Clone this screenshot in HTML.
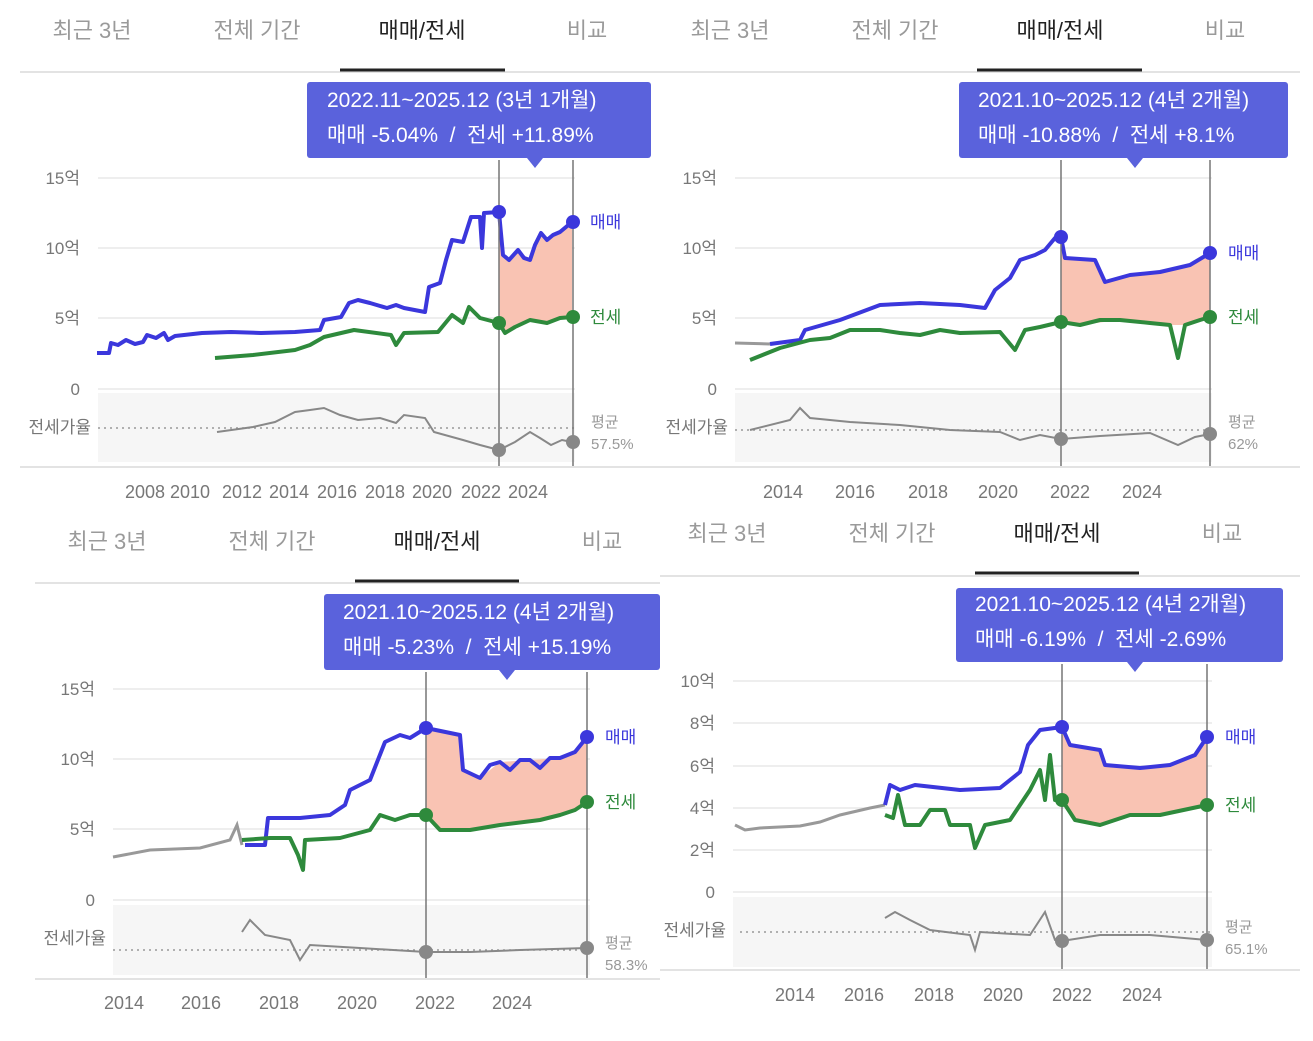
<!DOCTYPE html>
<html><head><meta charset="utf-8"><style>
html,body{margin:0;padding:0;background:#fff;}
svg{display:block;font-family:"Liberation Sans","Noto Sans CJK KR",sans-serif;}
text{white-space:pre;}
.tab{font-size:22px;fill:#9a9a9a;text-anchor:middle;}
.tabA{font-size:22px;fill:#222;text-anchor:middle;}
.yl{font-size:17px;fill:#777;text-anchor:end;}
.xl{font-size:18px;fill:#777;text-anchor:middle;}
.tt{font-size:21px;fill:#fff;}
.b{fill:none;stroke:#3b37dc;stroke-width:4;stroke-linejoin:round;}
.g{fill:none;stroke:#2e8a3c;stroke-width:4;stroke-linejoin:round;}
.r{fill:none;stroke:#888;stroke-width:2;}
.gr{fill:none;stroke:#999;stroke-width:3;}
.grid{stroke:#eee;stroke-width:2;}
.dash{stroke:#999;stroke-width:1.5;stroke-dasharray:2,4;}
.vl{stroke:#777;stroke-width:1.5;}
</style></head><body>
<svg width="1313" height="1041" viewBox="0 0 1313 1041" xml:space="preserve">
<!-- ================= PANEL 1 ================= -->
<text class="tab" x="92" y="38">최근 3년</text>
<text class="tab" x="257" y="38">전체 기간</text>
<text class="tabA" x="422" y="38">매매/전세</text>
<text class="tab" x="587" y="38">비교</text>
<line x1="20" y1="72" x2="657" y2="72" stroke="#e3e3e3" stroke-width="2"/>
<line x1="340" y1="70" x2="505" y2="70" stroke="#222" stroke-width="3"/>
<line class="grid" x1="98" y1="178" x2="575" y2="178"/>
<line class="grid" x1="98" y1="248" x2="575" y2="248"/>
<line class="grid" x1="98" y1="318" x2="575" y2="318"/>
<line class="grid" x1="98" y1="389" x2="575" y2="389"/>
<rect x="98" y="393" width="477" height="69" fill="#f6f6f6"/>
<text class="yl" x="80" y="184">15억</text>
<text class="yl" x="80" y="254">10억</text>
<text class="yl" x="80" y="324">5억</text>
<text class="yl" x="80" y="395">0</text>
<text class="yl" x="91" y="433">전세가율</text>
<line class="dash" x1="98" y1="428" x2="575" y2="428"/>
<polygon fill="#f9c3b3" points="499,212 503,255 509,260 518,250 530,260 541,233 547,240 560,232 572,222 572,317 547,323 530,320 505,333 499,323"/>
<polyline class="b" points="97,353 109,353 111,343 118,345 126,340 135,344 143,342 147,335 156,338 164,333 168,340 175,336 202,333 231,332 261,333 295,332 320,330 324,320 341,317 349,303 358,300 370,303 387,308 396,305 404,308 425,312 429,287 440,283 446,260 452,240 463,242 471,217 480,217 482,248 484,213 499,212 503,255 509,260 518,250 524,258 530,260 535,245 541,233 547,240 553,235 560,232 572,222"/>
<polyline class="g" points="215,358 253,355 295,350 310,345 324,337 354,330 391,335 396,345 404,333 438,332 452,315 463,323 469,307 480,318 499,323 505,333 515,327 530,320 547,323 560,318 572,317"/>
<polyline class="r" points="217,432 253,427 275,422 295,412 310,410 324,408 340,415 358,420 380,418 396,423 404,415 425,418 434,432 463,440 480,445 499,450 515,442 530,432 540,438 551,445 562,440 572,442"/>
<line class="vl" x1="499" y1="160" x2="499" y2="467"/>
<line class="vl" x1="573" y1="160" x2="573" y2="467"/>
<circle cx="499" cy="212" r="7" fill="#3b37dc"/><circle cx="573" cy="222" r="7" fill="#3b37dc"/>
<circle cx="499" cy="323" r="7" fill="#2e8a3c"/><circle cx="573" cy="317" r="7" fill="#2e8a3c"/>
<circle cx="499" cy="450" r="7" fill="#888"/><circle cx="573" cy="442" r="7" fill="#888"/>
<text x="590" y="228" font-size="17" fill="#3b37dc">매매</text>
<text x="590" y="323" font-size="17" fill="#2e8a3c">전세</text>
<text x="591" y="427" font-size="15" fill="#999">평균</text>
<text x="591" y="449" font-size="15" fill="#999">57.5%</text>
<line x1="20" y1="467" x2="657" y2="467" stroke="#e3e3e3" stroke-width="2"/>
<text class="xl" x="145" y="498">2008</text><text class="xl" x="190" y="498">2010</text><text class="xl" x="242" y="498">2012</text><text class="xl" x="289" y="498">2014</text><text class="xl" x="337" y="498">2016</text><text class="xl" x="385" y="498">2018</text><text class="xl" x="432" y="498">2020</text><text class="xl" x="481" y="498">2022</text><text class="xl" x="528" y="498">2024</text>
<rect x="307" y="82" width="344" height="76" rx="3" fill="#5a62dc"/>
<polygon points="527,158 543,158 535,168" fill="#5a62dc"/>
<text class="tt" x="327" y="107">2022.11~2025.12 (3년 1개월)</text>
<text class="tt" x="327" y="142">매매 -5.04%  /  전세 +11.89%</text>

<!-- ================= PANEL 2 ================= -->
<text class="tab" x="730" y="38">최근 3년</text>
<text class="tab" x="895" y="38">전체 기간</text>
<text class="tabA" x="1060" y="38">매매/전세</text>
<text class="tab" x="1225" y="38">비교</text>
<line x1="657" y1="72" x2="1300" y2="72" stroke="#e3e3e3" stroke-width="2"/>
<line x1="977" y1="70" x2="1142" y2="70" stroke="#222" stroke-width="3"/>
<line class="grid" x1="735" y1="178" x2="1212" y2="178"/>
<line class="grid" x1="735" y1="248" x2="1212" y2="248"/>
<line class="grid" x1="735" y1="318" x2="1212" y2="318"/>
<line class="grid" x1="735" y1="389" x2="1212" y2="389"/>
<rect x="735" y="393" width="477" height="69" fill="#f6f6f6"/>
<text class="yl" x="717" y="184">15억</text>
<text class="yl" x="717" y="254">10억</text>
<text class="yl" x="717" y="324">5억</text>
<text class="yl" x="717" y="395">0</text>
<text class="yl" x="728" y="433">전세가율</text>
<line class="dash" x1="735" y1="430" x2="1212" y2="430"/>
<polygon fill="#f9c3b3" points="1061,237 1065,258 1095,260 1105,282 1130,275 1160,272 1190,265 1210,253 1210,317 1185,325 1170,325 1120,320 1080,325 1061,322"/>
<polyline class="gr" points="735,343 770,344"/>
<polyline class="b" points="770,344 800,340 805,330 840,320 880,305 920,303 960,305 985,308 995,290 1010,278 1020,260 1035,255 1045,250 1055,238 1061,237 1065,258 1095,260 1105,282 1130,275 1160,272 1190,265 1210,253"/>
<polyline class="g" points="750,360 780,348 810,340 830,338 850,330 880,330 900,333 920,335 940,330 960,333 1000,332 1015,350 1025,330 1040,327 1061,322 1080,325 1100,320 1120,320 1150,323 1170,325 1178,358 1185,325 1200,320 1210,317"/>
<polyline class="r" points="750,430 790,420 800,408 810,418 850,422 900,425 950,430 1000,432 1020,440 1040,435 1061,439 1100,436 1150,433 1178,445 1195,437 1210,434"/>
<line class="vl" x1="1061" y1="160" x2="1061" y2="467"/>
<line class="vl" x1="1210" y1="160" x2="1210" y2="467"/>
<circle cx="1061" cy="237" r="7" fill="#3b37dc"/><circle cx="1210" cy="253" r="7" fill="#3b37dc"/>
<circle cx="1061" cy="322" r="7" fill="#2e8a3c"/><circle cx="1210" cy="317" r="7" fill="#2e8a3c"/>
<circle cx="1061" cy="439" r="7" fill="#888"/><circle cx="1210" cy="434" r="7" fill="#888"/>
<text x="1228" y="259" font-size="17" fill="#3b37dc">매매</text>
<text x="1228" y="323" font-size="17" fill="#2e8a3c">전세</text>
<text x="1228" y="427" font-size="15" fill="#999">평균</text>
<text x="1228" y="449" font-size="15" fill="#999">62%</text>
<line x1="657" y1="467" x2="1300" y2="467" stroke="#e3e3e3" stroke-width="2"/>
<text class="xl" x="783" y="498">2014</text><text class="xl" x="855" y="498">2016</text><text class="xl" x="928" y="498">2018</text><text class="xl" x="998" y="498">2020</text><text class="xl" x="1070" y="498">2022</text><text class="xl" x="1142" y="498">2024</text>
<rect x="959" y="82" width="329" height="76" rx="3" fill="#5a62dc"/>
<polygon points="1127,158 1143,158 1135,168" fill="#5a62dc"/>
<text class="tt" x="978" y="107">2021.10~2025.12 (4년 2개월)</text>
<text class="tt" x="978" y="142">매매 -10.88%  /  전세 +8.1%</text>

<!-- ================= PANEL 3 ================= -->
<text class="tab" x="107" y="549">최근 3년</text>
<text class="tab" x="272" y="549">전체 기간</text>
<text class="tabA" x="437" y="549">매매/전세</text>
<text class="tab" x="602" y="549">비교</text>
<line x1="35" y1="583" x2="660" y2="583" stroke="#e3e3e3" stroke-width="2"/>
<line x1="355" y1="581" x2="519" y2="581" stroke="#222" stroke-width="3"/>
<line class="grid" x1="113" y1="689" x2="590" y2="689"/>
<line class="grid" x1="113" y1="759" x2="590" y2="759"/>
<line class="grid" x1="113" y1="829" x2="590" y2="829"/>
<line class="grid" x1="113" y1="900" x2="590" y2="900"/>
<rect x="113" y="905" width="477" height="70" fill="#f6f6f6"/>
<text class="yl" x="95" y="695">15억</text>
<text class="yl" x="95" y="765">10억</text>
<text class="yl" x="95" y="835">5억</text>
<text class="yl" x="95" y="906">0</text>
<text class="yl" x="106" y="944">전세가율</text>
<line class="dash" x1="113" y1="950" x2="590" y2="950"/>
<polygon fill="#f9c3b3" points="426,728 460,735 463,770 480,778 500,762 530,760 560,758 575,752 587,737 587,802 575,810 560,815 540,820 500,825 470,830 440,830 426,815"/>
<polyline class="gr" points="113,857 150,850 200,848 230,840 237,825 242,845"/>
<polyline class="b" points="245,845 265,845 268,818 300,818 330,815 345,805 350,790 370,780 385,742 400,735 410,738 426,728 460,735 463,770 480,778 490,765 500,762 510,770 520,760 530,760 540,768 550,758 560,758 575,752 587,737"/>
<polyline class="g" points="242,840 270,838 290,838 298,855 303,870 305,840 340,838 370,830 380,815 395,820 410,815 426,815 440,830 470,830 500,825 540,820 560,815 575,810 587,802"/>
<polyline class="r" points="242,932 250,920 265,935 290,940 300,960 310,945 360,948 426,952 470,952 520,950 587,948"/>
<line class="vl" x1="426" y1="672" x2="426" y2="979"/>
<line class="vl" x1="587" y1="672" x2="587" y2="979"/>
<circle cx="426" cy="728" r="7" fill="#3b37dc"/><circle cx="587" cy="737" r="7" fill="#3b37dc"/>
<circle cx="426" cy="815" r="7" fill="#2e8a3c"/><circle cx="587" cy="802" r="7" fill="#2e8a3c"/>
<circle cx="426" cy="952" r="7" fill="#888"/><circle cx="587" cy="948" r="7" fill="#888"/>
<text x="605" y="743" font-size="17" fill="#3b37dc">매매</text>
<text x="605" y="808" font-size="17" fill="#2e8a3c">전세</text>
<text x="605" y="948" font-size="15" fill="#999">평균</text>
<text x="605" y="970" font-size="15" fill="#999">58.3%</text>
<line x1="35" y1="979" x2="660" y2="979" stroke="#e3e3e3" stroke-width="2"/>
<text class="xl" x="124" y="1009">2014</text><text class="xl" x="201" y="1009">2016</text><text class="xl" x="279" y="1009">2018</text><text class="xl" x="357" y="1009">2020</text><text class="xl" x="435" y="1009">2022</text><text class="xl" x="512" y="1009">2024</text>
<rect x="324" y="594" width="336" height="76" rx="3" fill="#5a62dc"/>
<polygon points="499,670 515,670 507,680" fill="#5a62dc"/>
<text class="tt" x="343" y="619">2021.10~2025.12 (4년 2개월)</text>
<text class="tt" x="343" y="654">매매 -5.23%  /  전세 +15.19%</text>

<!-- ================= PANEL 4 ================= -->
<text class="tab" x="727" y="541">최근 3년</text>
<text class="tab" x="892" y="541">전체 기간</text>
<text class="tabA" x="1057" y="541">매매/전세</text>
<text class="tab" x="1222" y="541">비교</text>
<line x1="660" y1="576" x2="1300" y2="576" stroke="#e3e3e3" stroke-width="2"/>
<line x1="975" y1="573" x2="1139" y2="573" stroke="#222" stroke-width="3"/>
<line class="grid" x1="733" y1="681" x2="1212" y2="681"/>
<line class="grid" x1="733" y1="723" x2="1212" y2="723"/>
<line class="grid" x1="733" y1="766" x2="1212" y2="766"/>
<line class="grid" x1="733" y1="808" x2="1212" y2="808"/>
<line class="grid" x1="733" y1="850" x2="1212" y2="850"/>
<line class="grid" x1="733" y1="892" x2="1212" y2="892"/>
<rect x="733" y="897" width="479" height="70" fill="#f6f6f6"/>
<text class="yl" x="715" y="687">10억</text>
<text class="yl" x="715" y="729">8억</text>
<text class="yl" x="715" y="772">6억</text>
<text class="yl" x="715" y="814">4억</text>
<text class="yl" x="715" y="856">2억</text>
<text class="yl" x="715" y="898">0</text>
<text class="yl" x="726" y="936">전세가율</text>
<line class="dash" x1="740" y1="932" x2="1212" y2="932"/>
<polygon fill="#f9c3b3" points="1062,727 1070,745 1100,750 1105,765 1140,768 1170,765 1195,755 1207,737 1207,805 1160,815 1130,815 1100,825 1075,820 1062,800"/>
<polyline class="gr" points="735,825 745,830 760,828 800,826 820,822 840,815 870,808 885,805"/>
<polyline class="b" points="885,805 890,785 900,790 915,785 960,790 1000,788 1020,772 1028,745 1040,730 1062,727 1070,745 1100,750 1105,765 1140,768 1170,765 1195,755 1207,737"/>
<polyline class="g" points="885,815 893,818 898,795 905,825 920,825 930,810 945,810 950,825 970,825 975,848 985,825 1010,820 1030,790 1040,770 1045,800 1050,755 1055,800 1062,800 1075,820 1100,825 1130,815 1160,815 1207,805"/>
<polyline class="r" points="885,918 895,912 910,920 930,930 970,935 975,950 980,932 1030,935 1045,912 1055,940 1062,941 1100,935 1150,935 1207,940"/>
<line class="vl" x1="1062" y1="664" x2="1062" y2="970"/>
<line class="vl" x1="1207" y1="664" x2="1207" y2="970"/>
<circle cx="1062" cy="727" r="7" fill="#3b37dc"/><circle cx="1207" cy="737" r="7" fill="#3b37dc"/>
<circle cx="1062" cy="800" r="7" fill="#2e8a3c"/><circle cx="1207" cy="805" r="7" fill="#2e8a3c"/>
<circle cx="1062" cy="941" r="7" fill="#888"/><circle cx="1207" cy="940" r="7" fill="#888"/>
<text x="1225" y="743" font-size="17" fill="#3b37dc">매매</text>
<text x="1225" y="811" font-size="17" fill="#2e8a3c">전세</text>
<text x="1225" y="932" font-size="15" fill="#999">평균</text>
<text x="1225" y="954" font-size="15" fill="#999">65.1%</text>
<line x1="660" y1="970" x2="1300" y2="970" stroke="#e3e3e3" stroke-width="2"/>
<text class="xl" x="795" y="1001">2014</text><text class="xl" x="864" y="1001">2016</text><text class="xl" x="934" y="1001">2018</text><text class="xl" x="1003" y="1001">2020</text><text class="xl" x="1072" y="1001">2022</text><text class="xl" x="1142" y="1001">2024</text>
<rect x="956" y="588" width="327" height="74" rx="3" fill="#5a62dc"/>
<polygon points="1127,662 1143,662 1135,672" fill="#5a62dc"/>
<text class="tt" x="975" y="611">2021.10~2025.12 (4년 2개월)</text>
<text class="tt" x="975" y="646">매매 -6.19%  /  전세 -2.69%</text>
</svg>
</body></html>
